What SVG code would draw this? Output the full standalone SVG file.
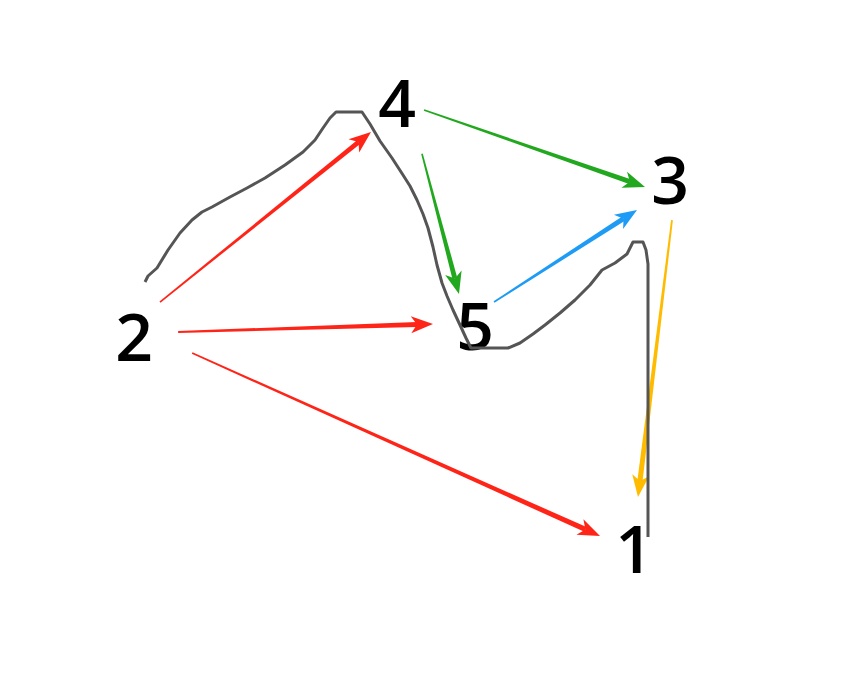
<svg xmlns="http://www.w3.org/2000/svg" width="854" height="684" viewBox="0 0 854 684">
<defs>
<style>
.lbl{font-family:"Open Sans","Noto Sans","Liberation Sans",sans-serif;font-size:66px;font-weight:600;fill:#000;text-anchor:middle}
.red{fill:#ff2418}.green{fill:#22a81e}.blue{fill:#1e9bf5}.yellow{fill:#ffbb00}
.sketch{fill:none;stroke:#555;stroke-width:3;stroke-linejoin:round;stroke-linecap:butt}
</style>
<polygon id="head" points="0,0 -22,-8.5 -16,0 -22,8.5"/>
</defs>
<rect width="854" height="684" fill="#fff"/>
<g id="connectors">
<g class="red" transform="translate(371,132) rotate(-38.86)"><polygon points="-271,-0.8 -271,0.8 -16,2.4 -16,-2.4"/><use href="#head"/></g>
<g class="red" transform="translate(433,324) rotate(-1.8)"><polygon points="-255,-0.9 -255,0.9 -16,2.6 -16,-2.6"/><use href="#head"/></g>
<g class="red" transform="translate(600,536) rotate(24.16)"><polygon points="-447,-0.9 -447,0.9 -16,2.6 -16,-2.6"/><use href="#head"/></g>
<g class="green" transform="translate(645,187) rotate(19.21)"><polygon points="-234,-0.8 -234,0.8 -16,2.5 -16,-2.5"/><use href="#head"/></g>
<g class="green" transform="translate(459,294) rotate(75.2)"><polygon points="-145,-0.8 -145,0.8 -16,2.5 -16,-2.5"/><use href="#head"/></g>
<g class="blue" transform="translate(637,210) rotate(-32.75)"><polygon points="-170,-0.8 -170,0.8 -16,2.6 -16,-2.6"/><use href="#head"/></g>
<g class="yellow" transform="translate(638,497) rotate(97)"><polygon points="-279,-0.9 -279,0.9 -16,2.6 -16,-2.6"/><use href="#head"/></g>
</g>
<g id="node-1"><text class="lbl" x="634" y="573">1</text></g>
<g id="node-2"><text class="lbl" x="134" y="361">2</text></g>
<g id="node-3"><text class="lbl" x="670" y="204">3</text></g>
<g id="node-4"><text class="lbl" x="397" y="127">4</text></g>
<g id="node-5"><text class="lbl" x="475" y="350">5</text></g>
<path class="sketch" d="M145,282 L148,276 L157,268 L168,250 L180,233 L192,220 L202,212 L212,207 L230,197 L247,188 L265,178 L285,165 L303,152 L315,140 L323,128 L330,118 L336,112 L362,112 L370,124 L380,141 L392,158 L403,175 L410,186 L417,200 L423,214 L428,228 L433,247 L437,265 L442,283 L447,296 L453,310 L460,325 L466,338 L471,348 L508,348 L520,343 L533,334 L545,325 L560,313 L575,300 L590,285 L602,270 L615,263 L627,254 L633,242 L643,242 L646,250 L648,264 L648,537"/>
</svg>
